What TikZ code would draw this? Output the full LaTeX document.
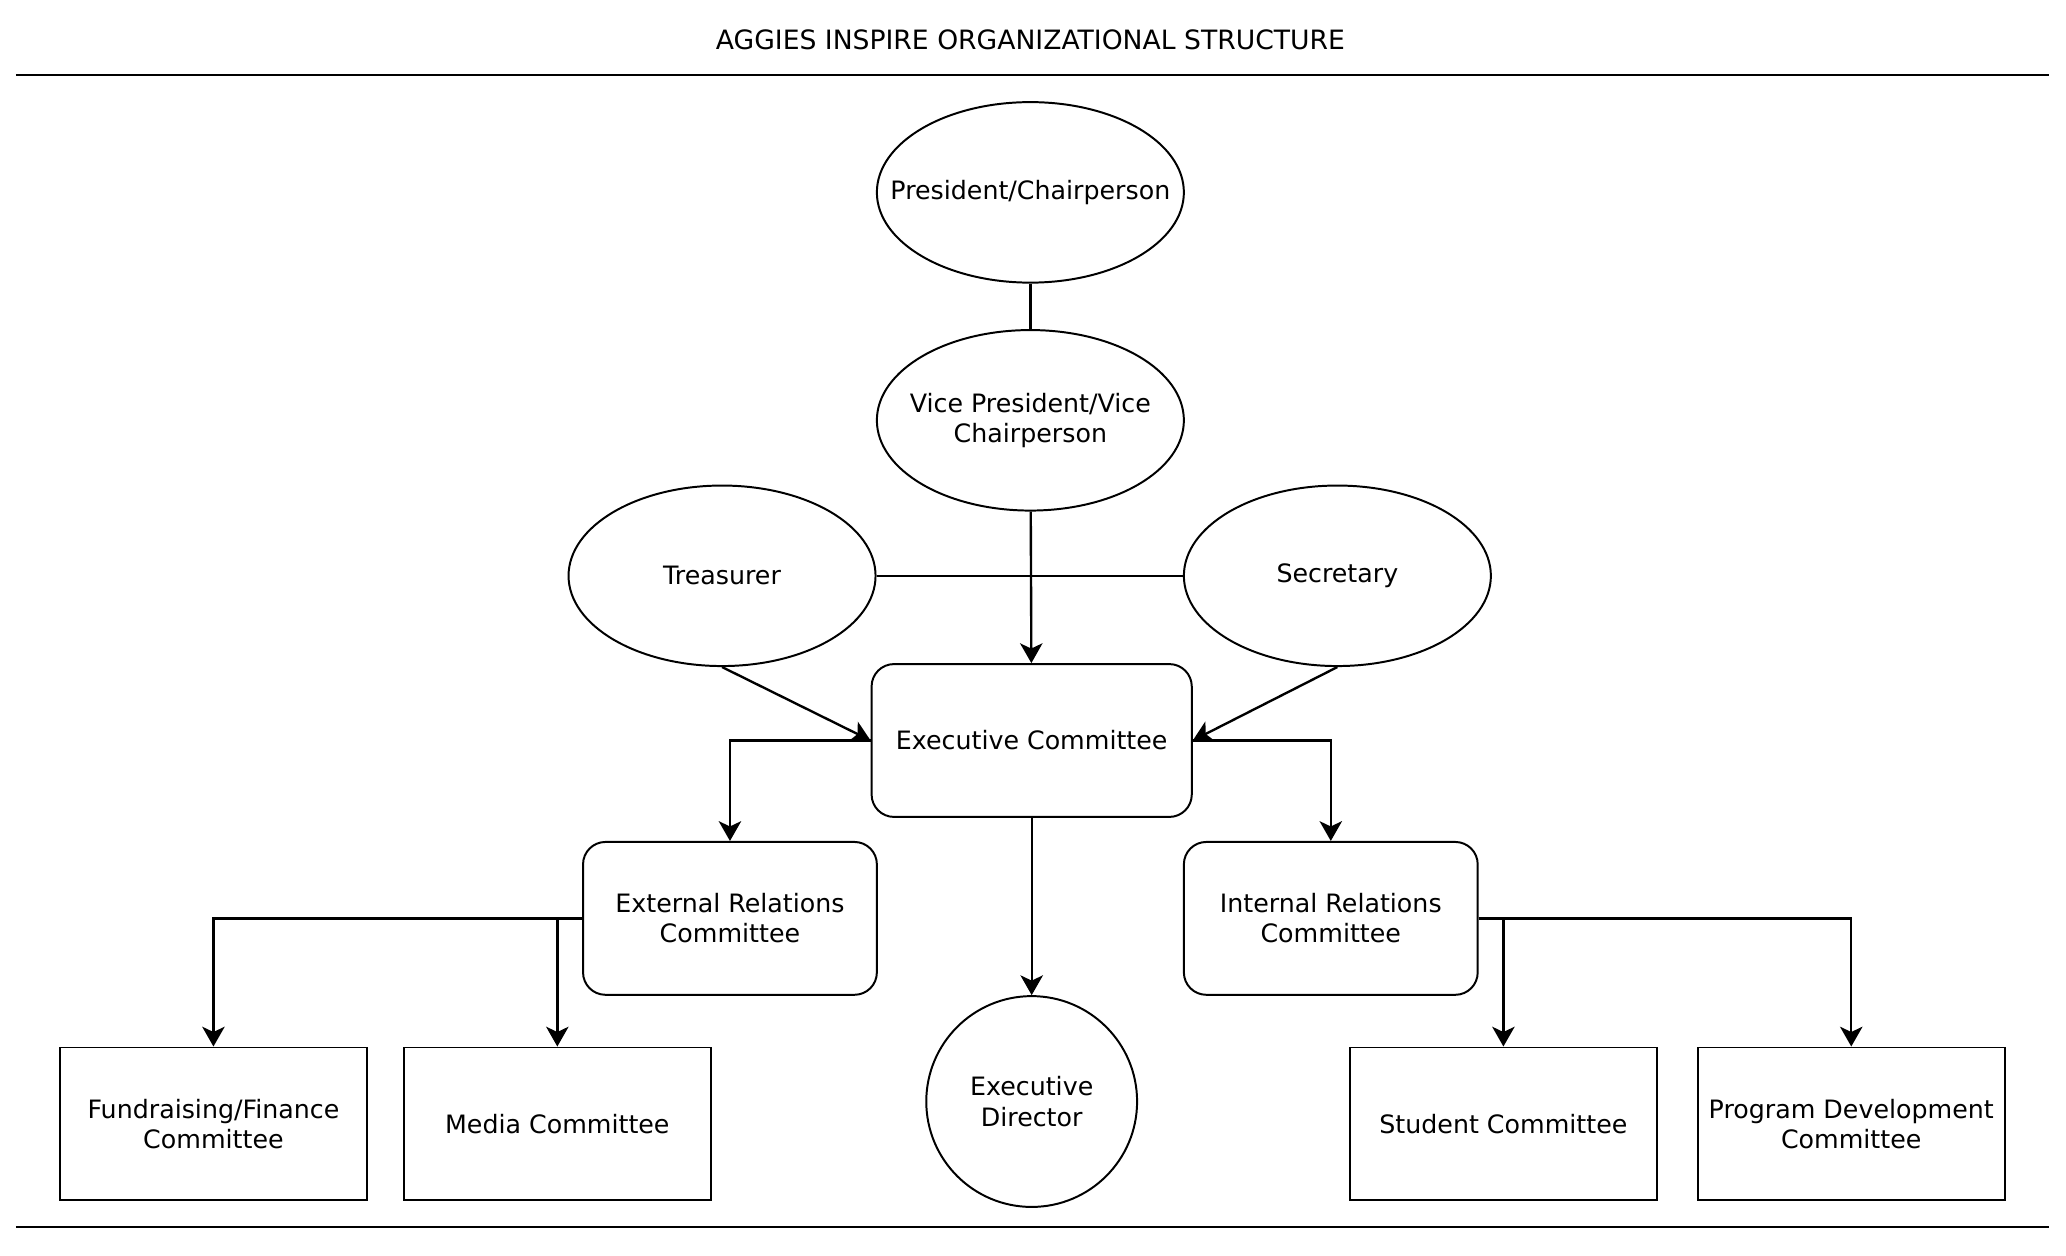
\documentclass[tikz,border=0pt]{standalone}
\usepackage{fontspec}
\setmainfont{DejaVu Sans}
\usetikzlibrary{arrows.meta, shapes.geometric}
\tikzset{
  officer/.style={ellipse, draw, line width=1.5pt, minimum width=233pt, minimum height=137pt, inner xsep=-30pt, inner ysep=0pt, align=center, font=\fontsize{19.2}{23}\selectfont},
  board/.style={rectangle, rounded corners=17pt, draw, line width=1.5pt, minimum width=243pt, minimum height=116pt, inner sep=0pt, align=center, font=\fontsize{19.2}{23}\selectfont},
  unit/.style={rectangle, draw, line width=1.5pt, minimum width=233pt, minimum height=116pt, inner sep=0pt, align=center, font=\fontsize{19.2}{23}\selectfont},
  link/.style={line width=1.8pt},
  flow/.style={line width=1.8pt, ->}
}

\begin{document}
\begin{tikzpicture}[x=1pt, y=-1pt, >={Stealth[length=15pt, width=17pt, inset=4pt]}]
    \useasboundingbox (0,0) rectangle (1568,953);

    % Title and rules
    \node[font=\fontsize{20.2}{24}\selectfont] (title) at (782,30) {AGGIES INSPIRE ORGANIZATIONAL STRUCTURE};
    \draw[line width=1.5pt] (12,57) -- (1555,57);
    \draw[line width=1.5pt] (12,931) -- (1555,931);

    % Officers
    \node[officer] (pres) at (782,146) {President/Chairperson};
    \node[officer] (vp) at (782,319) {Vice President/Vice\\Chairperson};
    \node[officer] (treas) at (548,437) {Treasurer};
    \node[officer] (sec) at (1015,437) {Secretary};

    % Committees
    \node[board] (exec) at (783,562) {Executive Committee};
    \node[board, minimum width=223pt] (ext) at (554,697) {External Relations\\Committee};
    \node[board, minimum width=223pt] (int) at (1010,697) {Internal Relations\\Committee};
    \node[circle, draw, line width=1.5pt, minimum size=160pt, inner sep=0pt, align=center, font=\fontsize{19.2}{23}\selectfont] (dir) at (783,836) {Executive\\Director};

    \node[unit] (fund) at (162,853) {Fundraising/Finance\\Committee};
    \node[unit] (media) at (423,853) {Media Committee};
    \node[unit] (stud) at (1141,853) {Student Committee};
    \node[unit] (prog) at (1405,853) {Program Development\\Committee};

    % Connectors
    \draw[link] (pres) -- (vp);
    \draw[link] (treas) -- (sec);
    \draw[flow] (vp) -- (exec);
    \draw[flow] (treas.south) -- (exec.west);
    \draw[flow] (sec.south) -- (exec.east);
    \draw[flow] (exec.west) -| (ext.north);
    \draw[flow] (exec.east) -| (int.north);
    \draw[flow] (exec) -- (dir);
    \draw[flow] (ext.west) -| (fund.north);
    \draw[flow] (ext.west) -| (media.north);
    \draw[flow] (int.east) -| (stud.north);
    \draw[flow] (int.east) -| (prog.north);
\end{tikzpicture}
\end{document}
